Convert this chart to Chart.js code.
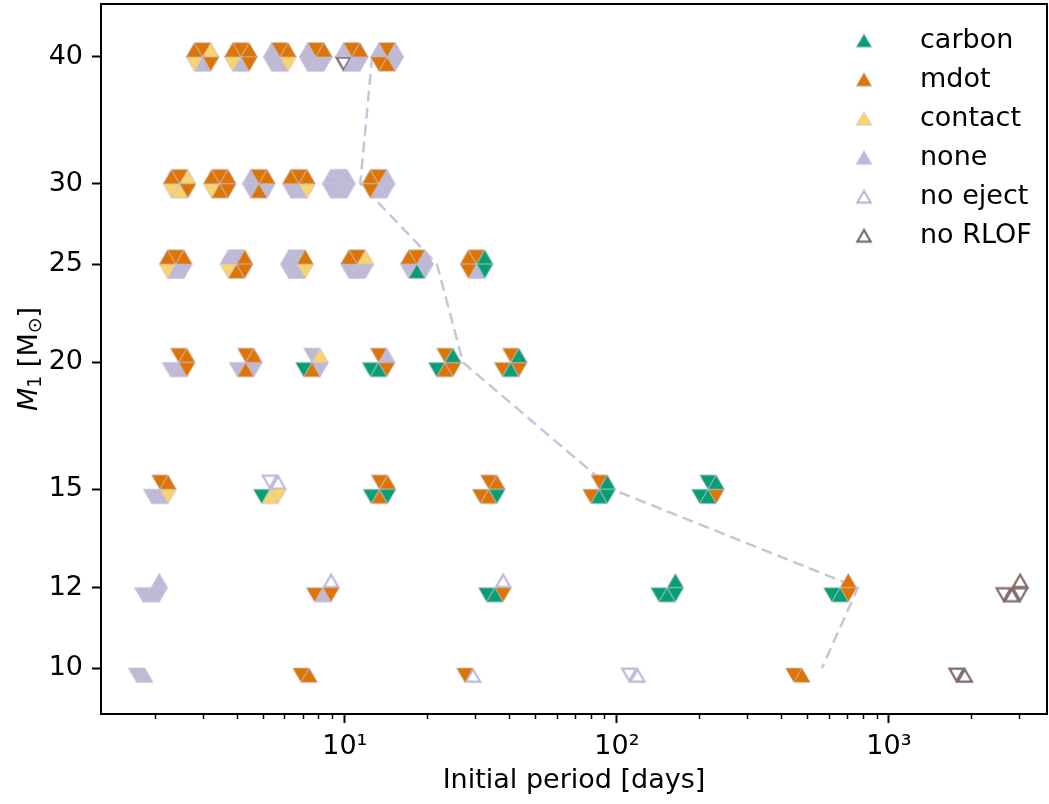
<!DOCTYPE html>
<html><head><meta charset="utf-8">
<script src="https://cdn.jsdelivr.net/npm/chart.js@4.4.1/dist/chart.umd.min.js"></script>
<style>html,body{margin:0;padding:0;background:#fff;}canvas{display:block;}</style>
</head><body>
<canvas id="c" width="1049" height="804"></canvas>
<script>
// ---------------- data ----------------
const categories = ['carbon', 'mdot', 'contact', 'none', 'no eject', 'no RLOF'];
const categoryCodes = ['c', 'm', 'k', 'n', 'e', 'r'];
// slot order inside each hexagon: upper-left, top, upper-right, lower-left, bottom, lower-right ('.' = no model)
const massRows = [40, 30, 25, 20, 15, 12, 10];
const periodsM40 = [3.0, 4.15, 5.77, 7.82, 10.6, 14.3];
const outcomesM40 = ['mmkknm', 'mmmknm', 'nmmnnk', 'nmmnnn', 'nmmrnn', 'nmnmmn'];
const periodsM30 = [2.47, 3.47, 4.83, 6.78, 9.5, 13.3];
const outcomesM30 = ['mmkkkm', 'mmmkmm', 'nmmnmn', 'mmmnnk', 'nnnnnn', 'mmnmnn'];
const periodsM25 = [2.39, 4.0, 6.67, 11.1, 18.4, 30.5];
const outcomesM25 = ['mmmknn', 'nnmkmm', 'nnmnnk', 'mmknnn', 'mmnncn', 'mmcmnc'];
const periodsM20 = [2.45, 4.32, 7.57, 13.3, 23.3, 40.7];
const outcomesM20 = ['.mmnnm', '.mmnmn', '.nkcmn', '.mnccm', '.mccmm', '.mcmcm'];
const periodsM15 = [2.09, 5.3, 13.4, 33.8, 86, 216];
const outcomesM15 = ['.mmnnk', '.eeckk', '.mmcmc', '.mmmmc', '.mcmcc', '.ccccm'];
const periodsM12 = [1.94, 8.3, 35.6, 153, 661, 2830];
const outcomesM12 = ['..nnnn', '..emnm', '..eccm', '..cccc', '..mccm', '..rrrr'];
const periodsM10 = [1.84, 7.4, 29.6, 119, 479, 1900];
const outcomesM10 = ['...nn.', '...mm.', '...me.', '...ee.', '...mm.', '...rr.'];
const thresholdMasses = [40, 30, 25, 20, 15, 12, 10];
const thresholdPeriods = [12.6, 11.4, 21.8, 27.2, 96, 769, 567];
const yTickValues = [10, 12, 15, 20, 25, 30, 40];
const xTickValues = [10, 100, 1000];
const xTickLabels = ['10\u00B9', '10\u00B2', '10\u00B3'];

// ---------------- styles ----------------
const FONT = 'DejaVu Sans';
const FILL = { c: '#089E73', m: '#DE7403', k: '#F9D46C', n: '#BEBAD6' };
const OUTLINE = { e: '#BEBAD6', r: '#806C6C' };
const SIDE = 16.5;
const H = SIDE * Math.sqrt(3) / 2;

function slotVerts(slot) {
  const v = [[SIDE, 0], [SIDE / 2, -H], [-SIDE / 2, -H], [-SIDE, 0], [-SIDE / 2, H], [SIDE / 2, H]];
  const C = [0, 0];
  const map = [[C, v[2], v[3]], [C, v[1], v[2]], [C, v[0], v[1]], [C, v[3], v[4]], [C, v[4], v[5]], [C, v[5], v[0]]];
  return map[slot];
}
function drawTri(g, pts, code) {
  if (FILL[code]) {
    g.beginPath(); g.moveTo(pts[0][0], pts[0][1]);
    g.lineTo(pts[1][0], pts[1][1]); g.lineTo(pts[2][0], pts[2][1]); g.closePath();
    g.fillStyle = FILL[code]; g.fill();
    g.lineWidth = 0.8; g.strokeStyle = 'rgba(190,186,214,0.8)'; g.stroke();
  } else {
    const cx = (pts[0][0] + pts[1][0] + pts[2][0]) / 3, cy = (pts[0][1] + pts[1][1] + pts[2][1]) / 3;
    const k = 0.86;
    const q = pts.map(p => [cx + (p[0] - cx) * k, cy + (p[1] - cy) * k]);
    g.beginPath(); g.moveTo(q[0][0], q[0][1]);
    g.lineTo(q[1][0], q[1][1]); g.lineTo(q[2][0], q[2][1]); g.closePath();
    g.fillStyle = '#fff'; g.fill();
    g.lineJoin = 'miter'; g.lineWidth = 2.2; g.strokeStyle = OUTLINE[code]; g.stroke();
  }
}
function slotCanvas(code, slot) {
  const S = 2 * Math.ceil(SIDE + 4);
  const cv = document.createElement('canvas'); cv.width = S; cv.height = S;
  const g = cv.getContext('2d'); g.translate(S / 2, S / 2);
  drawTri(g, slotVerts(slot), code);
  return cv;
}
function legendCanvas(code) {
  const s = 15.5, h = s * Math.sqrt(3) / 2, S = 24;
  const cv = document.createElement('canvas'); cv.width = S; cv.height = S;
  const g = cv.getContext('2d'); g.translate(S / 2, S / 2);
  drawTri(g, [[0, -h / 2], [-s / 2, h / 2], [s / 2, h / 2]], code);
  return cv;
}
const slotStyles = {}, legendStyles = {};
categoryCodes.forEach(code => {
  slotStyles[code] = [0, 1, 2, 3, 4, 5].map(s => slotCanvas(code, s));
  legendStyles[code] = legendCanvas(code);
});

const rows = [
  { m: massRows[0], p: periodsM40, o: outcomesM40 },
  { m: massRows[1], p: periodsM30, o: outcomesM30 },
  { m: massRows[2], p: periodsM25, o: outcomesM25 },
  { m: massRows[3], p: periodsM20, o: outcomesM20 },
  { m: massRows[4], p: periodsM15, o: outcomesM15 },
  { m: massRows[5], p: periodsM12, o: outcomesM12 },
  { m: massRows[6], p: periodsM10, o: outcomesM10 }
];

const datasets = categoryCodes.map((code, ci) => {
  const data = [];
  rows.forEach(row => row.p.forEach((p, i) => {
    const s = row.o[i];
    for (let k = 0; k < 6; k++) if (s[k] === code) data.push({ x: p, y: row.m, slot: k });
  }));
  return {
    label: categories[ci], data, order: 0, showLine: false,
    pointStyle: ctx => (ctx.raw ? slotStyles[code][ctx.raw.slot] : legendStyles[code]),
    pointRadius: 10, pointHoverRadius: 10
  };
});
datasets.push({
  label: 'threshold', order: 10, showLine: true,
  data: thresholdPeriods.map((p, i) => ({ x: p, y: thresholdMasses[i] })),
  borderColor: 'rgba(190,186,214,0.85)', borderWidth: 2.5, borderDash: [11, 6],
  pointRadius: 0, fill: false, tension: 0
});

// ---------------- plugins ----------------
const legendInside = {
  id: 'legendInside',
  beforeLayout(chart) {
    const lg = chart.legend;
    if (lg && !lg._patched) {
      lg._patched = true;
      const fit = lg.fit.bind(lg);
      lg.fit = function () { fit(); this._realW = this.width; this._realH = this.height; this.width = 0; };
    }
  },
  afterLayout(chart) {
    const lg = chart.legend; if (!lg) return;
    lg.width = lg._realW; lg.height = lg._realH;
    lg.left = 809.5; lg.right = lg.left + lg.width;
    lg.top = 15; lg.bottom = lg.top + lg.height;
  }
};
const axesExtras = {
  id: 'axesExtras',
  afterDraw(chart) {
    const ctx = chart.ctx, ca = chart.chartArea, xs = chart.scales.x;
    ctx.save();
    ctx.strokeStyle = '#000';
    // minor ticks on the log x axis
    ctx.lineWidth = 1.5;
    for (let e = 0; e <= 3; e++) {
      for (let m = 2; m <= 9; m++) {
        const v = m * Math.pow(10, e);
        if (v < xs.min || v > xs.max) continue;
        const px = Math.round(xs.getPixelForValue(v)) + 0.5;
        ctx.beginPath(); ctx.moveTo(px, ca.bottom); ctx.lineTo(px, ca.bottom + 5); ctx.stroke();
      }
    }
    // top and right spines
    ctx.lineWidth = 2;
    ctx.beginPath();
    ctx.moveTo(ca.left, ca.top); ctx.lineTo(ca.right, ca.top); ctx.lineTo(ca.right, ca.bottom);
    ctx.stroke();
    // y axis title  M_1 [M_sun]
    const fs = 27, sub = 19;
    ctx.translate(37, (ca.top + ca.bottom) / 2);
    ctx.rotate(-Math.PI / 2);
    ctx.fillStyle = '#000'; ctx.textAlign = 'left'; ctx.textBaseline = 'alphabetic';
    const parts = [
      { t: 'M', f: 'italic ' + fs + 'px "' + FONT + '"', dy: 0 },
      { t: '1', f: sub + 'px "' + FONT + '"', dy: 4 },
      { t: ' [M', f: fs + 'px "' + FONT + '"', dy: 0 },
      { t: '\u2299', f: sub + 'px "' + FONT + '"', dy: 4 },
      { t: ']', f: fs + 'px "' + FONT + '"', dy: 0 }
    ];
    let total = 0;
    parts.forEach(p => { ctx.font = p.f; p.w = ctx.measureText(p.t).width; total += p.w; });
    let x = -total / 2;
    parts.forEach(p => { ctx.font = p.f; ctx.fillText(p.t, x, p.dy); x += p.w; });
    ctx.restore();
  }
};

// ---------------- chart ----------------
Chart.defaults.font.family = FONT;
const axisFont = { family: FONT, size: 27 };
const labelFont = { family: FONT, size: 27 };
new Chart(document.getElementById('c'), {
  type: 'scatter',
  data: { datasets },
  plugins: [legendInside, axesExtras],
  options: {
    responsive: false, animation: false, devicePixelRatio: 1, events: [],
    layout: { autoPadding: false, padding: { top: 4, right: 2, bottom: 0, left: 0 } },
    plugins: {
      tooltip: { enabled: false },
      legend: {
        position: 'right', align: 'start',
        labels: {
          usePointStyle: true, pointStyleWidth: 85, padding: 12,
          font: labelFont, color: '#000',
          generateLabels: () => categoryCodes.map((code, i) => ({
            text: categories[i], pointStyle: legendStyles[code], fillStyle: 'rgba(0,0,0,0)',
            strokeStyle: 'rgba(0,0,0,0)', lineWidth: 0, hidden: false, datasetIndex: i, fontColor: '#000'
          }))
        }
      }
    },
    scales: {
      x: {
        type: 'logarithmic', min: 1.27, max: 3810,
        afterBuildTicks: s => { s.ticks = xTickValues.map(v => ({ value: v })); },
        afterFit: s => { s.height = 90; s.paddingLeft = 0; s.paddingRight = 0; },
        ticks: {
          autoSkip: false, maxRotation: 0, padding: 8, color: '#000', font: axisFont,
          callback: v => { const i = xTickValues.indexOf(v); return i >= 0 ? xTickLabels[i] : ''; }
        },
        grid: { drawOnChartArea: false, drawTicks: true, tickLength: 9, tickWidth: 2, tickColor: '#000' },
        border: { display: true, color: '#000', width: 2 },
        title: { display: true, text: 'Initial period [days]', color: '#000', font: labelFont, padding: { top: 0, bottom: 7 } }
      },
      y: {
        type: 'logarithmic', min: 9.01, max: 45.1,
        afterBuildTicks: s => { s.ticks = yTickValues.map(v => ({ value: v })); },
        afterFit: s => { s.width = 101; s.paddingTop = 0; s.paddingBottom = 0; },
        ticks: { autoSkip: false, padding: 9, color: '#000', font: axisFont, callback: v => String(v) },
        grid: { drawOnChartArea: false, drawTicks: true, tickLength: 9, tickWidth: 2, tickColor: '#000' },
        border: { display: true, color: '#000', width: 2 }
      }
    }
  }
});
</script>
</body></html>
